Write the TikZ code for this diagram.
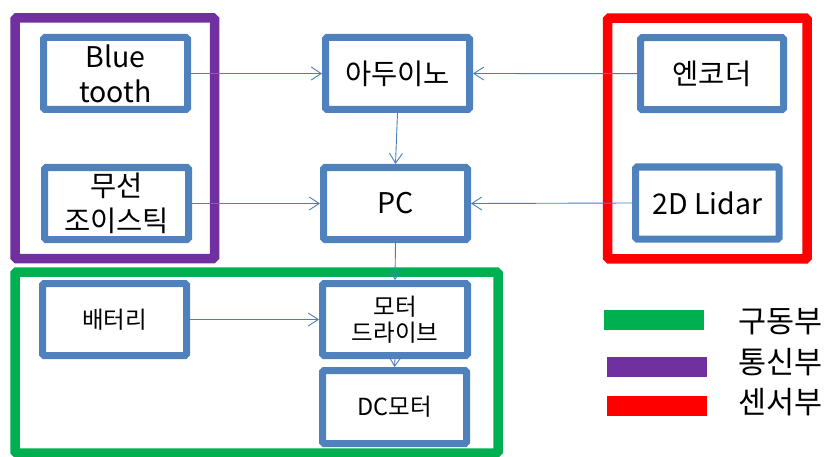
\documentclass[tikz,border=0pt]{standalone}
\usepackage{fontspec}
\setmainfont{Noto Sans CJK KR}
\usetikzlibrary{arrows.meta}
\definecolor{boxblue}{HTML}{4F81BD}
\definecolor{linkblue}{HTML}{4A7EBB}
\definecolor{commpurple}{HTML}{7030A0}
\definecolor{sensred}{HTML}{FF0000}
\definecolor{drivegreen}{HTML}{00B050}
\begin{document}
\begin{tikzpicture}[x=1pt,y=-1pt,inner sep=0pt,
partbox/.style={draw=boxblue,rectangle,line width=7pt,rounded corners=1.5pt,minimum width=144pt,minimum height=72pt,align=center,font=\fontsize{28.5}{35}\selectfont},
smallbox/.style={partbox,font=\fontsize{23.5}{25.5}\selectfont},
groupframe/.style={draw=#1,rectangle,line width=9.5pt,rounded corners=1.5pt,minimum width=199.5pt,minimum height=240.5pt},
link/.style={draw=linkblue,line width=0.9pt,-{Straight Barb[length=10pt,width=13pt]}},
legendbar/.style={fill=#1,rectangle,minimum width=100pt,minimum height=20pt},
legendtext/.style={anchor=west,font=\fontsize{30.5}{34}\selectfont}]

\useasboundingbox (0,0) rectangle (826,457);

\draw (114.75,138.25) node[groupframe=commpurple] (comm) {};
\draw (707.35,138.5) node[groupframe=sensred] (sensor) {};
\draw (256.5,362.5) node[groupframe=drivegreen,minimum width=483pt,minimum height=181pt] (drive) {};

\draw (115.5,73.5) node[partbox] (bt) {Blue\\tooth};
\draw (116.5,203.5) node[partbox] (joy) {무선\\조이스틱};
\draw (397.5,73.5) node[partbox] (ard) {아두이노};
\draw (395.5,203.5) node[partbox] (pc) {PC};
\draw (712,73.7) node[partbox,minimum width=143pt] (enc) {엔코더};
\draw (707.3,203) node[partbox,minimum width=143.5pt] (lidar) {2D Lidar};
\draw (114.5,319.5) node[smallbox] (bat) {배터리};
\draw (395,319.5) node[smallbox,minimum width=145pt] (mdrv) {모터\\드라이브};
\draw (394.5,407) node[smallbox,minimum height=73pt] (dcm) {DC모터};

\draw[link] (bt.east) -- (ard.west);
\draw[link] (joy.east) -- (pc.west);
\draw[link] (enc.west) -- (ard.east);
\draw[link] (lidar.west) -- (pc.east);
\draw[link] (ard.south) -- (pc.north);
\draw[link] (pc.south) -- (mdrv.north);
\draw[link] (bat.east) -- (mdrv.west);
\draw[link] (mdrv.south) -- (dcm.north);

\draw (654,319.5) node[legendbar=drivegreen] (lgdrive) {};
\draw (657,367) node[legendbar=commpurple] (lgcomm) {};
\draw (657,406) node[legendbar=sensred] (lgsensor) {};
\draw (738,322) node[legendtext] (txdrive) {구동부};
\draw (738,362) node[legendtext] (txcomm) {통신부};
\draw (738,402) node[legendtext] (txsensor) {센서부};
\end{tikzpicture}
\end{document}
